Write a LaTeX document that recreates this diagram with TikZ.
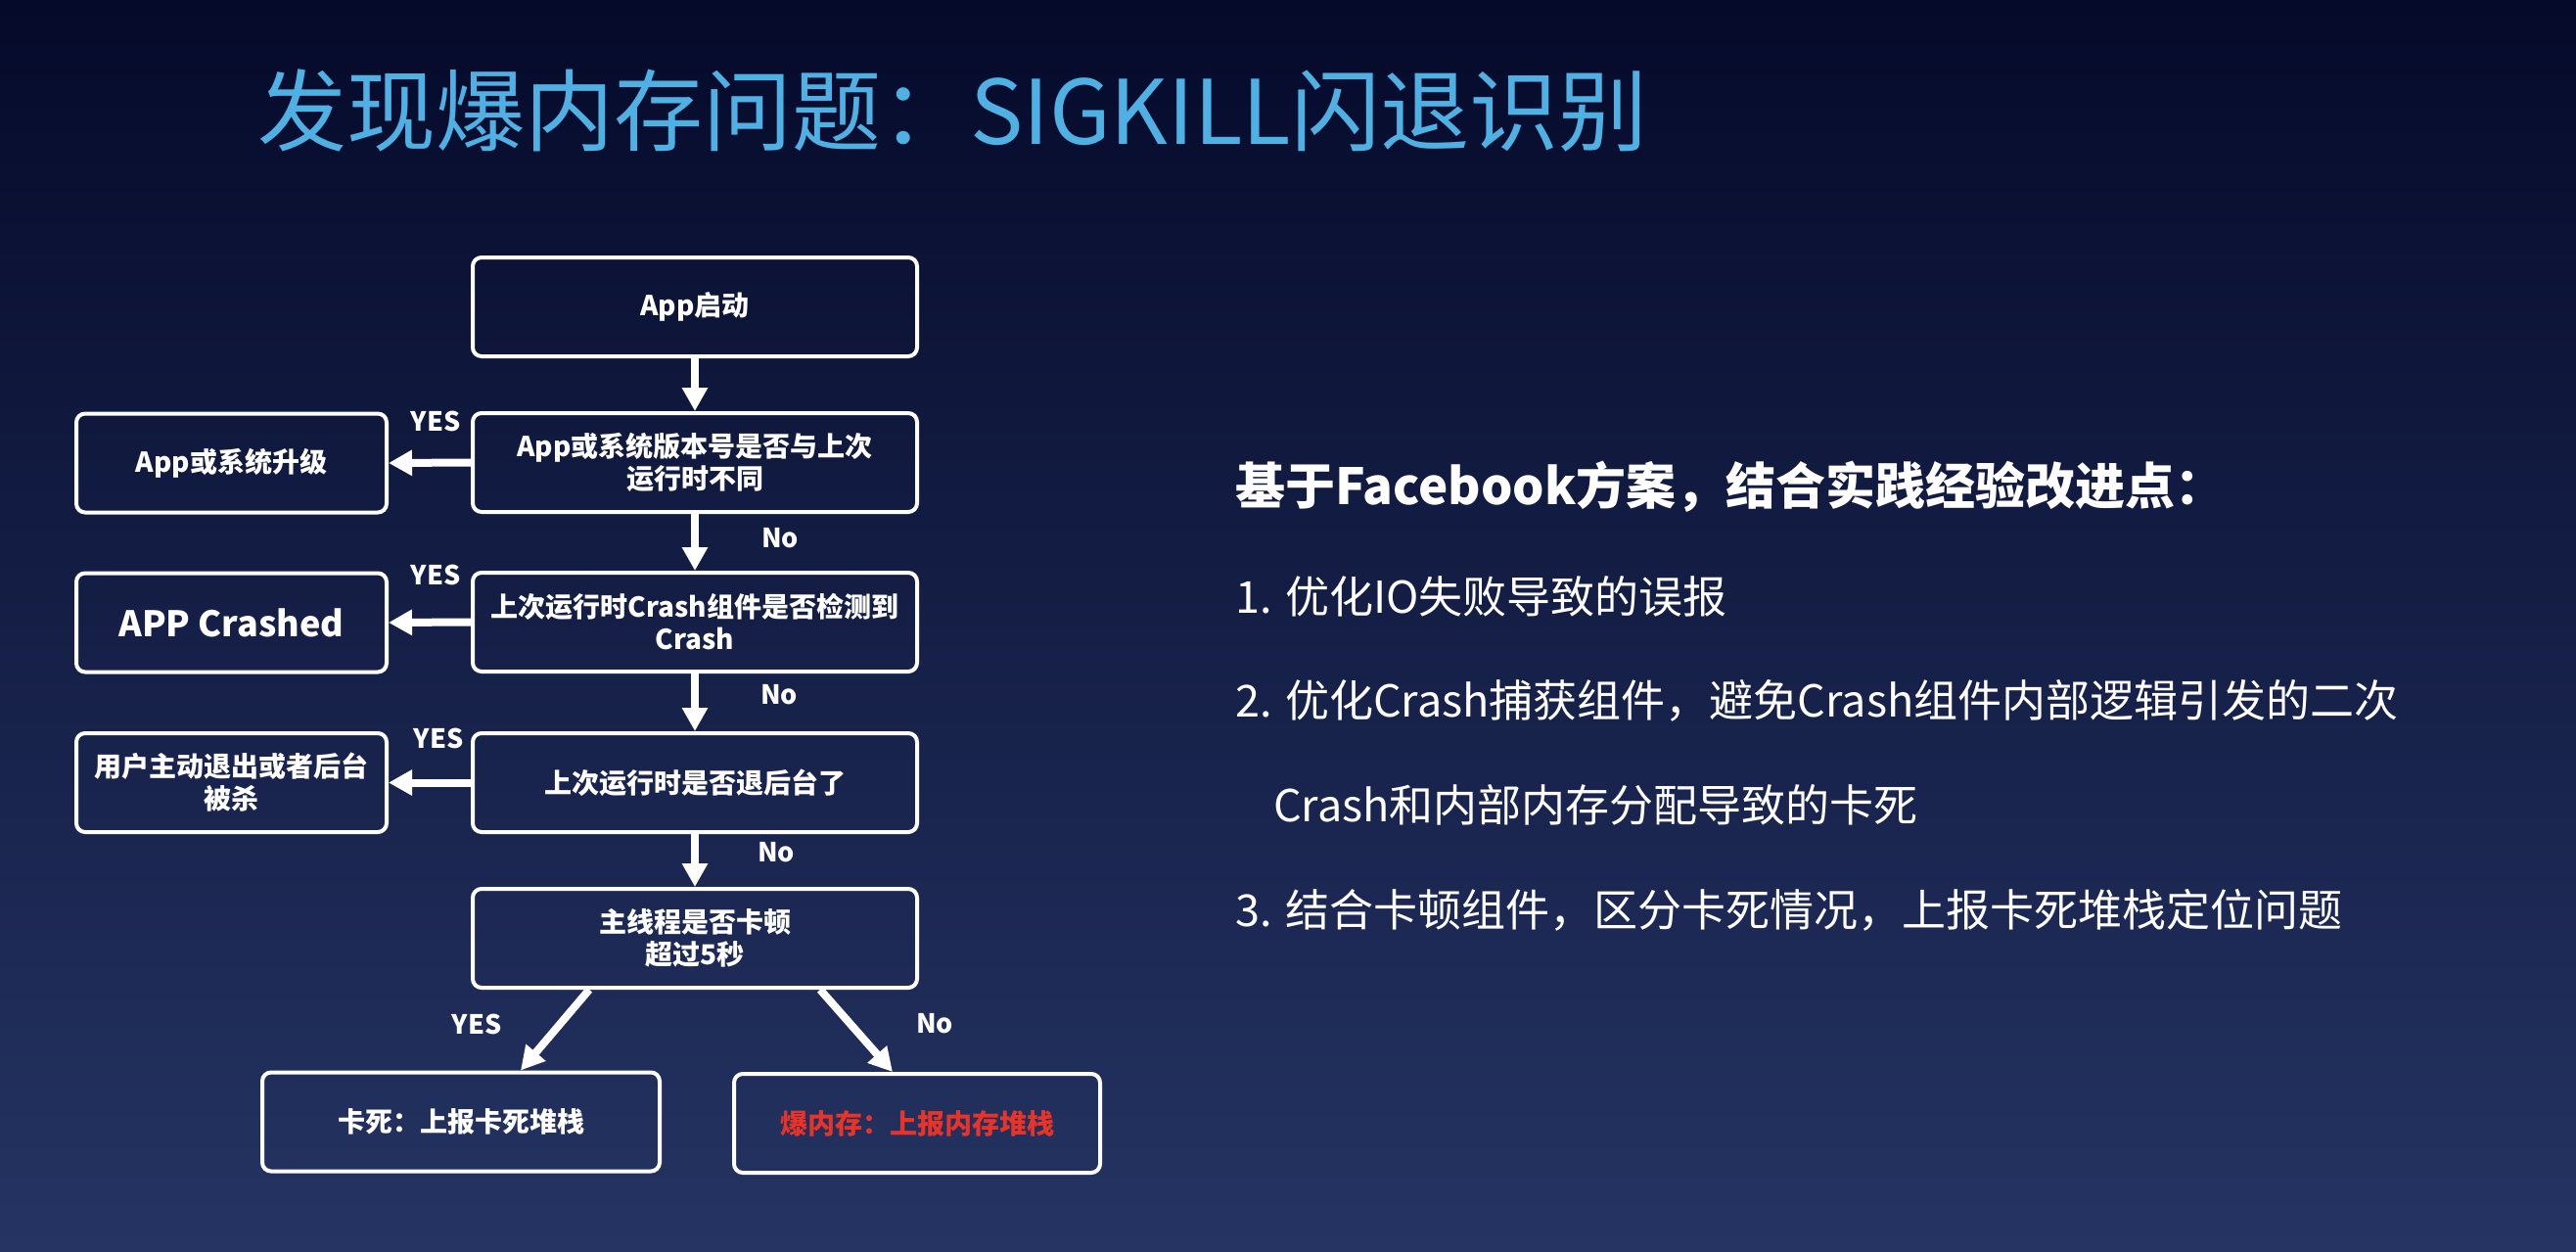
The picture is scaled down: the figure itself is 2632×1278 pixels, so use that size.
\documentclass[tikz,border=0pt]{standalone}
\usepackage{fontspec}
\setmainfont{Noto Sans CJK SC}
\usetikzlibrary{arrows.meta,calc}
\definecolor{bgtop}{RGB}{5,10,42}
\definecolor{bgbot}{RGB}{37,52,99}
\definecolor{titleblue}{RGB}{79,176,228}
\definecolor{alertred}{RGB}{232,52,40}
\begin{document}
\begin{tikzpicture}[x=1pt,y=-1pt,
 flowbox/.style={draw=white,line width=4pt,rounded corners=9pt,minimum width=454pt,minimum height=101pt,inner sep=0pt,align=center,text=white,font=\fontsize{28}{33}\selectfont\bfseries},
 sidebox/.style={flowbox,minimum width=317pt},
 flowarrow/.style={draw=white,line width=8pt,-{Triangle[length=24pt,width=25pt]}},
 lbl/.style={text=white,font=\fontsize{27}{27}\selectfont\bfseries,inner sep=0pt},
 bodytext/.style={text=white,anchor=base west,inner sep=0pt,font=\fontsize{45}{45}\selectfont}]
\useasboundingbox (0,0) rectangle (2632,1278);
\shade[top color=bgtop,bottom color=bgbot] (0,0) rectangle (2632,1278);

\node[anchor=base west,inner sep=0pt,text=titleblue,font=\fontsize{91}{91}\selectfont] (title) at (263,147) {发现爆内存问题：SIGKILL闪退识别};

\node[flowbox] (start) at (710,313.5) {App启动};
\node[flowbox] (ver) at (710,472.5) {App或系统版本号是否与上次\\运行时不同};
\node[flowbox] (crash) at (710,635.5) {上次运行时Crash组件是否检测到\\Crash};
\node[flowbox] (bg) at (710,799.5) {上次运行时是否退后台了};
\node[flowbox] (main) at (710,958.5) {主线程是否卡顿\\超过5秒};
\node[sidebox] (upg) at (236.5,473) {App或系统升级};
\node[sidebox,font=\fontsize{36}{40}\selectfont\bfseries] (crashed) at (236.5,636) {APP Crashed};
\node[sidebox] (quit) at (236.5,799.5) {用户主动退出或者后台\\被杀};
\node[flowbox,minimum width=406pt] (hang) at (471,1146) {卡死：上报卡死堆栈};
\node[flowbox,minimum width=374pt,text=alertred] (oom) at (937,1147.5) {爆内存：上报内存堆栈};

\draw[flowarrow] (start.south) -- (ver.north);
\draw[flowarrow] (ver.south) -- (crash.north);
\draw[flowarrow] (crash.south) -- (bg.north);
\draw[flowarrow] (bg.south) -- (main.north);
\draw[flowarrow] (ver.west) -- (upg.east);
\draw[flowarrow] (crash.west) -- (crashed.east);
\draw[flowarrow] (bg.west) -- (quit.east);
\draw[flowarrow] ([xshift=-108pt]main.south) -- ([xshift=61pt]hang.north);
\draw[flowarrow] ([xshift=128pt]main.south) -- ([xshift=-25pt]oom.north);

\node[lbl] (yes1) at (445,430) {YES};
\node[lbl] (yes2) at (445,587) {YES};
\node[lbl] (yes3) at (448,754) {YES};
\node[lbl] (no1) at (797,550) {No};
\node[lbl] (no2) at (796,710) {No};
\node[lbl] (no3) at (793,871) {No};
\node[lbl] (yes4) at (487,1046) {YES};
\node[lbl] (no4) at (955,1046) {No};

\node[bodytext,font=\fontsize{51}{51}\selectfont\bfseries] (head) at (1262,515) {基于Facebook方案，结合实践经验改进点：};
\node[bodytext] (p1) at (1262,626) {1. 优化IO失败导致的误报};
\node[bodytext] (p2) at (1262,732) {2. 优化Crash捕获组件，避免Crash组件内部逻辑引发的二次};
\node[bodytext] (p3) at (1301,839) {Crash和内部内存分配导致的卡死};
\node[bodytext] (p4) at (1262,946) {3. 结合卡顿组件，区分卡死情况，上报卡死堆栈定位问题};
\end{tikzpicture}
\end{document}
